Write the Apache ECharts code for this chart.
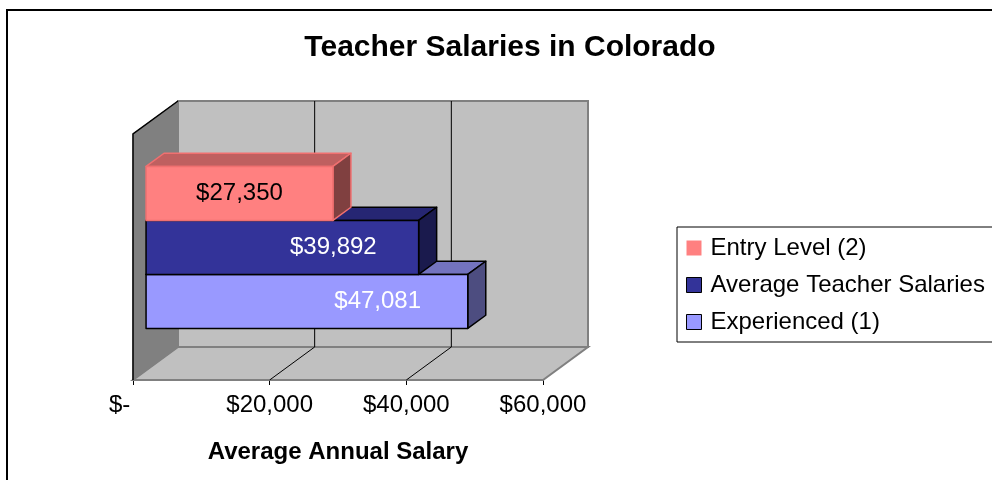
<!DOCTYPE html>
<html>
<head>
<meta charset="utf-8">
<title>Teacher Salaries in Colorado</title>
<script src="https://cdn.jsdelivr.net/npm/echarts@6/dist/echarts.min.js"></script>
<style>
  html, body { margin: 0; padding: 0; background: #fff; }
  #chart { width: 992px; height: 480px; }
</style>
</head>
<body>
<div id="chart"></div>
<script>
// data
const categories = [''];
const seriesNames = ['Entry Level (2)', 'Average Teacher Salaries', 'Experienced (1)'];
const entryLevel = [27350];
const averageSalary = [39892];
const experienced = [47081];
const xTicks = [0, 20000, 40000, 60000];

const FONT = "'Liberation Sans', Arial, sans-serif";
// 3d depth of the plot box, in px
const DX = 45, DY = -33;
const BAR_FRONT = 0.29, BAR_DEPTH = 0.4;
const BAR_SHARE = 54 / 246;

const fmt = v => v === 0 ? '$-    ' : '$' + v.toLocaleString('en-US');

const myChart = echarts.init(document.getElementById('chart'));

// back wall, side wall, floor and gridlines
function renderWalls(params, api) {
  const cs = params.coordSys;
  const x0 = cs.x, x1 = cs.x + cs.width, yT = cs.y, yB = cs.y + cs.height;
  const kids = [];
  kids.push({ type: 'polygon', shape: { points: [[x0 + DX, yT + DY], [x1 + DX, yT + DY], [x1 + DX, yB + DY], [x0 + DX, yB + DY]] },
    style: { fill: '#c0c0c0', stroke: '#808080', lineWidth: 2 } });
  kids.push({ type: 'polygon', shape: { points: [[x0, yB], [x1, yB], [x1 + DX, yB + DY], [x0 + DX, yB + DY]] },
    style: { fill: '#c0c0c0', stroke: '#808080', lineWidth: 2 } });
  kids.push({ type: 'polygon', shape: { points: [[x0, yT], [x0 + DX, yT + DY], [x0 + DX, yB + DY], [x0, yB]] },
    style: { fill: '#808080', stroke: '#808080', lineWidth: 1 } });
  kids.push({ type: 'polyline', shape: { points: [[x0, yB], [x0, yT], [x0 + DX, yT + DY]] },
    style: { fill: null, stroke: '#000', lineWidth: 1.5 } });
  xTicks.slice(1, -1).forEach(t => {
    const px = api.coord([t, 0])[0];
    kids.push({ type: 'polyline', shape: { points: [[px, yB], [px + DX, yB + DY], [px + DX, yT + DY]] },
      style: { fill: null, stroke: '#000', lineWidth: 1 } });
  });
  return { type: 'group', children: kids };
}

function makeBarSeries(name, values, idx, colors, labelColor, labelFrac, z) {
  return {
    name: name,
    type: 'custom',
    z: z,
    clip: false,
    itemStyle: { color: colors[0] },
    encode: { x: 0, y: 1 },
    data: values.map((v, i) => [v, i]),
    renderItem: function (params, api) {
      const v = api.value(0);
      const c = api.value(1);
      const p0 = api.coord([0, c]);
      const p1 = api.coord([v, c]);
      const band = api.size([0, 1])[1];
      const h = band * BAR_SHARE;
      const fx = DX * BAR_FRONT, fy = DY * BAR_FRONT;
      const bx = DX * BAR_DEPTH, by = DY * BAR_DEPTH;
      const top = p0[1] - 1.5 * h + idx * h + fy;
      const xa = p0[0] + fx, xb = p1[0] + fx;
      const lx = api.coord([v * labelFrac, c])[0] + fx;
      const st = { stroke: colors[3], lineWidth: 1.5, lineJoin: 'round' };
      return {
        type: 'group',
        children: [
          { type: 'polygon', shape: { points: [[xa, top], [xb, top], [xb + bx, top + by], [xa + bx, top + by]] },
            style: Object.assign({ fill: colors[1] }, st) },
          { type: 'polygon', shape: { points: [[xb, top], [xb + bx, top + by], [xb + bx, top + h + by], [xb, top + h]] },
            style: Object.assign({ fill: colors[2] }, st) },
          { type: 'rect', shape: { x: xa, y: top, width: xb - xa, height: h },
            style: Object.assign({ fill: colors[0] }, st) },
          { type: 'text', x: lx, y: top + h / 2,
            style: { text: fmt(v), fill: labelColor, font: '24px ' + FONT, align: 'center', verticalAlign: 'middle' } }
        ]
      };
    }
  };
}

myChart.setOption({
  backgroundColor: '#ffffff',
  animation: false,
  textStyle: { fontFamily: FONT },
  graphic: [
    { type: 'rect', shape: { x: 7, y: 10, width: 1000, height: 500 },
      style: { fill: null, stroke: '#000', lineWidth: 2 }, z: 0 },
    { type: 'text', x: 510, y: 48,
      style: { text: 'Teacher Salaries in Colorado', font: 'bold 30px ' + FONT, fill: '#000', align: 'center', verticalAlign: 'middle' } }
  ],
  legend: {
    orient: 'vertical',
    left: 677,
    top: 227,
    padding: [9, 80, 8, 9],
    itemGap: 13,
    itemWidth: 15,
    itemHeight: 15,
    borderColor: '#000',
    borderWidth: 1,
    backgroundColor: '#fff',
    selectedMode: false,
    icon: 'rect',
    textStyle: { fontSize: 24, color: '#000', fontFamily: FONT, padding: [0, 0, 0, 4] },
    data: [
      { name: seriesNames[0], itemStyle: { color: '#ff8080', borderWidth: 0 } },
      { name: seriesNames[1], itemStyle: { color: '#333399', borderColor: '#000', borderWidth: 1 } },
      { name: seriesNames[2], itemStyle: { color: '#9999ff', borderColor: '#000', borderWidth: 1 } }
    ]
  },
  grid: { left: 133, top: 134, width: 410, height: 246, containLabel: false },
  xAxis: {
    type: 'value',
    min: 0,
    max: 60000,
    interval: 20000,
    name: 'Average Annual Salary',
    nameLocation: 'middle',
    nameGap: 60,
    nameTextStyle: { fontSize: 24, fontWeight: 'bold', color: '#000', fontFamily: FONT },
    axisLine: { show: true, lineStyle: { color: '#000', width: 1.5 } },
    axisTick: { show: true, length: 5, lineStyle: { color: '#000' } },
    axisLabel: { formatter: fmt, fontSize: 24, color: '#000', margin: 13, fontFamily: FONT },
    splitLine: { show: false }
  },
  yAxis: {
    type: 'category',
    data: categories,
    show: false
  },
  series: [
    {
      type: 'custom',
      name: 'walls',
      z: 1,
      silent: true,
      clip: false,
      encode: { x: 0, y: 1 },
      data: [[0, 0]],
      renderItem: renderWalls
    },
    makeBarSeries(seriesNames[2], experienced, 2, ['#9999ff', '#7373bf', '#4d4d80', '#000'], '#ffffff', 0.72, 3),
    makeBarSeries(seriesNames[1], averageSalary, 1, ['#333399', '#262673', '#1a1a4d', '#000'], '#ffffff', 0.687, 4),
    makeBarSeries(seriesNames[0], entryLevel, 0, ['#ff8080', '#bf6060', '#804040', '#f07070'], '#000000', 0.5, 5)
  ]
});
</script>
</body>
</html>
